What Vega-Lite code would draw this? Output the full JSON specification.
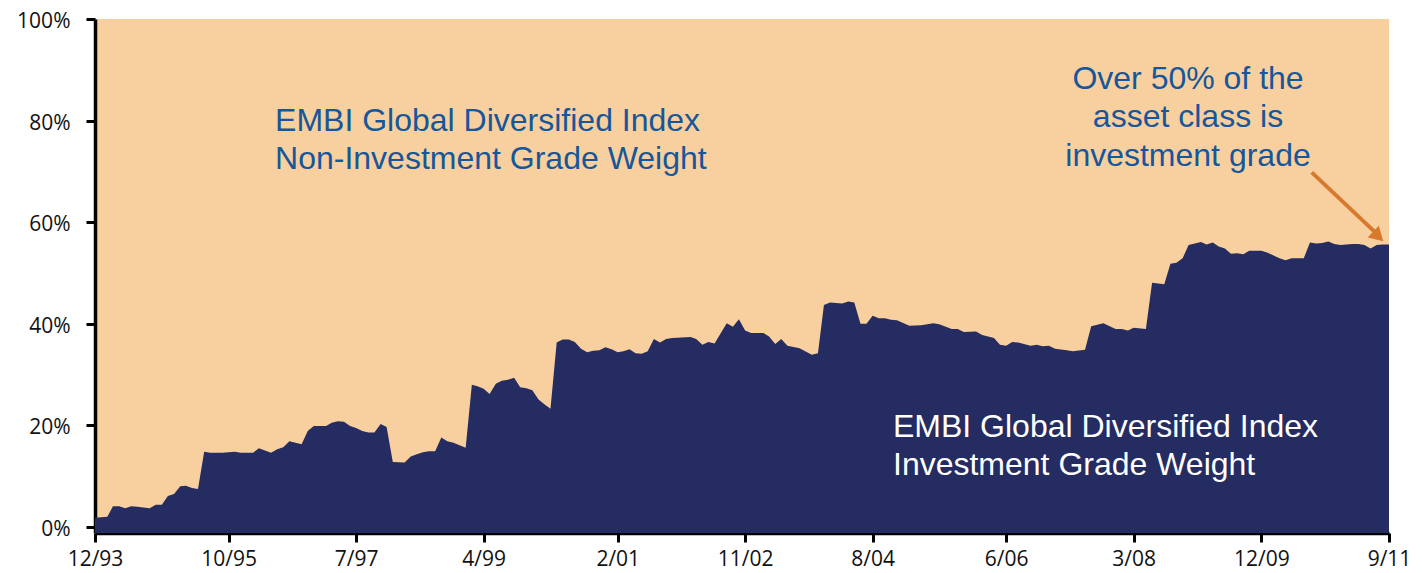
{
  "$schema": "https://vega.github.io/schema/vega-lite/v6.json",
  "autosize": {"type": "none"},
  "width": 1294,
  "height": 514,
  "padding": {"left": 95, "top": 19, "right": 33, "bottom": 40},
  "background": "white",
  "config": {
    "view": {"fill": "#F8CF9E", "stroke": null},
    "axis": {"grid": false, "labelFont": "Open Sans", "labelFontSize": 21, "labelColor": "#111111", "domainColor": "#000000", "tickColor": "#000000", "domainWidth": 3.5, "tickWidth": 3, "tickSize": 9, "title": null}
  },
  "data": {"values": [
    {"date": "1993-12-01", "ig": 1.8},
    {"date": "1994-02-01", "ig": 2.0},
    {"date": "1994-03-01", "ig": 4.1},
    {"date": "1994-04-01", "ig": 4.1},
    {"date": "1994-05-01", "ig": 3.7},
    {"date": "1994-06-01", "ig": 4.1},
    {"date": "1994-07-01", "ig": 4.0},
    {"date": "1994-09-01", "ig": 3.7},
    {"date": "1994-10-01", "ig": 4.4},
    {"date": "1994-11-01", "ig": 4.4},
    {"date": "1994-12-01", "ig": 6.1},
    {"date": "1995-01-01", "ig": 6.5},
    {"date": "1995-02-01", "ig": 8.0},
    {"date": "1995-03-01", "ig": 8.1},
    {"date": "1995-04-01", "ig": 7.7},
    {"date": "1995-05-01", "ig": 7.5},
    {"date": "1995-06-01", "ig": 14.8},
    {"date": "1995-07-01", "ig": 14.6},
    {"date": "1995-09-01", "ig": 14.6},
    {"date": "1995-11-01", "ig": 14.8},
    {"date": "1995-12-01", "ig": 14.6},
    {"date": "1996-02-01", "ig": 14.6},
    {"date": "1996-03-01", "ig": 15.5},
    {"date": "1996-05-01", "ig": 14.6},
    {"date": "1996-06-01", "ig": 15.3},
    {"date": "1996-07-01", "ig": 15.7},
    {"date": "1996-08-01", "ig": 16.9},
    {"date": "1996-10-01", "ig": 16.3},
    {"date": "1996-11-01", "ig": 18.9},
    {"date": "1996-12-01", "ig": 19.9},
    {"date": "1997-02-01", "ig": 19.9},
    {"date": "1997-03-01", "ig": 20.5},
    {"date": "1997-04-01", "ig": 20.8},
    {"date": "1997-05-01", "ig": 20.7},
    {"date": "1997-06-01", "ig": 19.9},
    {"date": "1997-07-01", "ig": 19.5},
    {"date": "1997-08-01", "ig": 18.9},
    {"date": "1997-09-01", "ig": 18.6},
    {"date": "1997-10-01", "ig": 18.6},
    {"date": "1997-11-01", "ig": 20.3},
    {"date": "1997-12-01", "ig": 19.7},
    {"date": "1998-01-01", "ig": 12.8},
    {"date": "1998-03-01", "ig": 12.7},
    {"date": "1998-04-01", "ig": 13.9},
    {"date": "1998-05-01", "ig": 14.3},
    {"date": "1998-06-01", "ig": 14.7},
    {"date": "1998-07-01", "ig": 14.9},
    {"date": "1998-08-01", "ig": 14.9},
    {"date": "1998-09-01", "ig": 17.6},
    {"date": "1998-10-01", "ig": 16.9},
    {"date": "1998-11-01", "ig": 16.6},
    {"date": "1999-01-01", "ig": 15.6},
    {"date": "1999-02-01", "ig": 28.0},
    {"date": "1999-03-01", "ig": 27.7},
    {"date": "1999-04-01", "ig": 27.2},
    {"date": "1999-05-01", "ig": 26.2},
    {"date": "1999-06-01", "ig": 28.2},
    {"date": "1999-07-01", "ig": 28.8},
    {"date": "1999-08-01", "ig": 29.0},
    {"date": "1999-09-01", "ig": 29.4},
    {"date": "1999-10-01", "ig": 27.5},
    {"date": "1999-11-01", "ig": 27.3},
    {"date": "1999-12-01", "ig": 26.9},
    {"date": "2000-01-01", "ig": 25.1},
    {"date": "2000-02-01", "ig": 24.1},
    {"date": "2000-03-01", "ig": 23.3},
    {"date": "2000-04-01", "ig": 36.3},
    {"date": "2000-05-01", "ig": 36.9},
    {"date": "2000-06-01", "ig": 36.9},
    {"date": "2000-07-01", "ig": 36.4},
    {"date": "2000-08-01", "ig": 35.1},
    {"date": "2000-09-01", "ig": 34.4},
    {"date": "2000-10-01", "ig": 34.7},
    {"date": "2000-11-01", "ig": 34.8},
    {"date": "2000-12-01", "ig": 35.4},
    {"date": "2001-01-01", "ig": 35.0},
    {"date": "2001-02-01", "ig": 34.4},
    {"date": "2001-03-01", "ig": 34.6},
    {"date": "2001-04-01", "ig": 35.0},
    {"date": "2001-05-01", "ig": 34.2},
    {"date": "2001-06-01", "ig": 34.1},
    {"date": "2001-07-01", "ig": 34.6},
    {"date": "2001-08-01", "ig": 37.0},
    {"date": "2001-09-01", "ig": 36.3},
    {"date": "2001-10-01", "ig": 37.0},
    {"date": "2001-11-01", "ig": 37.2},
    {"date": "2002-02-01", "ig": 37.4},
    {"date": "2002-03-01", "ig": 37.0},
    {"date": "2002-04-01", "ig": 35.9},
    {"date": "2002-05-01", "ig": 36.4},
    {"date": "2002-06-01", "ig": 36.1},
    {"date": "2002-08-01", "ig": 40.1},
    {"date": "2002-09-01", "ig": 39.4},
    {"date": "2002-10-01", "ig": 40.9},
    {"date": "2002-11-01", "ig": 38.7},
    {"date": "2002-12-01", "ig": 38.2},
    {"date": "2003-02-01", "ig": 38.2},
    {"date": "2003-03-01", "ig": 37.5},
    {"date": "2003-04-01", "ig": 36.0},
    {"date": "2003-05-01", "ig": 37.0},
    {"date": "2003-06-01", "ig": 35.7},
    {"date": "2003-08-01", "ig": 35.2},
    {"date": "2003-10-01", "ig": 33.9},
    {"date": "2003-11-01", "ig": 34.2},
    {"date": "2003-12-01", "ig": 43.7},
    {"date": "2004-01-01", "ig": 44.2},
    {"date": "2004-03-01", "ig": 44.0},
    {"date": "2004-04-01", "ig": 44.4},
    {"date": "2004-05-01", "ig": 44.2},
    {"date": "2004-06-01", "ig": 40.0},
    {"date": "2004-07-01", "ig": 40.0},
    {"date": "2004-08-01", "ig": 41.6},
    {"date": "2004-09-01", "ig": 41.1},
    {"date": "2004-10-01", "ig": 41.1},
    {"date": "2004-11-01", "ig": 40.8},
    {"date": "2004-12-01", "ig": 40.7},
    {"date": "2005-02-01", "ig": 39.6},
    {"date": "2005-04-01", "ig": 39.7},
    {"date": "2005-06-01", "ig": 40.1},
    {"date": "2005-07-01", "ig": 39.9},
    {"date": "2005-09-01", "ig": 39.0},
    {"date": "2005-10-01", "ig": 39.0},
    {"date": "2005-11-01", "ig": 38.4},
    {"date": "2006-01-01", "ig": 38.5},
    {"date": "2006-02-01", "ig": 37.8},
    {"date": "2006-04-01", "ig": 37.2},
    {"date": "2006-05-01", "ig": 35.9},
    {"date": "2006-06-01", "ig": 35.7},
    {"date": "2006-07-01", "ig": 36.4},
    {"date": "2006-08-01", "ig": 36.3},
    {"date": "2006-10-01", "ig": 35.7},
    {"date": "2006-11-01", "ig": 35.9},
    {"date": "2006-12-01", "ig": 35.6},
    {"date": "2007-01-01", "ig": 35.7},
    {"date": "2007-02-01", "ig": 35.1},
    {"date": "2007-04-01", "ig": 34.8},
    {"date": "2007-05-01", "ig": 34.6},
    {"date": "2007-07-01", "ig": 34.9},
    {"date": "2007-08-01", "ig": 39.5},
    {"date": "2007-10-01", "ig": 40.1},
    {"date": "2007-12-01", "ig": 39.0},
    {"date": "2008-01-01", "ig": 39.0},
    {"date": "2008-02-01", "ig": 38.7},
    {"date": "2008-03-01", "ig": 39.2},
    {"date": "2008-05-01", "ig": 39.0},
    {"date": "2008-06-01", "ig": 48.1},
    {"date": "2008-08-01", "ig": 47.8},
    {"date": "2008-09-01", "ig": 51.8},
    {"date": "2008-10-01", "ig": 52.0},
    {"date": "2008-11-01", "ig": 52.9},
    {"date": "2008-12-01", "ig": 55.5},
    {"date": "2009-02-01", "ig": 56.1},
    {"date": "2009-03-01", "ig": 55.6},
    {"date": "2009-04-01", "ig": 56.0},
    {"date": "2009-05-01", "ig": 55.2},
    {"date": "2009-06-01", "ig": 54.8},
    {"date": "2009-07-01", "ig": 53.8},
    {"date": "2009-08-01", "ig": 53.9},
    {"date": "2009-09-01", "ig": 53.7},
    {"date": "2009-10-01", "ig": 54.4},
    {"date": "2009-12-01", "ig": 54.4},
    {"date": "2010-01-01", "ig": 54.0},
    {"date": "2010-03-01", "ig": 52.9},
    {"date": "2010-04-01", "ig": 52.5},
    {"date": "2010-05-01", "ig": 52.9},
    {"date": "2010-07-01", "ig": 52.9},
    {"date": "2010-08-01", "ig": 56.0},
    {"date": "2010-09-01", "ig": 55.8},
    {"date": "2010-10-01", "ig": 55.9},
    {"date": "2010-11-01", "ig": 56.2},
    {"date": "2010-12-01", "ig": 55.7},
    {"date": "2011-01-01", "ig": 55.5},
    {"date": "2011-03-01", "ig": 55.7},
    {"date": "2011-04-01", "ig": 55.7},
    {"date": "2011-05-01", "ig": 55.5},
    {"date": "2011-06-01", "ig": 54.8},
    {"date": "2011-07-01", "ig": 55.5},
    {"date": "2011-08-01", "ig": 55.6},
    {"date": "2011-09-01", "ig": 55.6}
  ]},
  "encoding": {
    "x": {
      "field": "date", "type": "temporal",
      "scale": {"type": "utc", "domain": [{"year": 1993, "month": 12, "date": 1, "utc": true}, {"year": 2011, "month": 9, "date": 1, "utc": true}]},
      "axis": {
        "format": "%-m/%y", "labelPadding": 6, "labelFlush": false, "labelOverlap": false,
        "values": [
          {"year": 1993, "month": 12, "date": 1, "utc": true},
          {"year": 1995, "month": 10, "date": 1, "utc": true},
          {"year": 1997, "month": 7, "date": 1, "utc": true},
          {"year": 1999, "month": 4, "date": 1, "utc": true},
          {"year": 2001, "month": 2, "date": 1, "utc": true},
          {"year": 2002, "month": 11, "date": 1, "utc": true},
          {"year": 2004, "month": 8, "date": 1, "utc": true},
          {"year": 2006, "month": 6, "date": 1, "utc": true},
          {"year": 2008, "month": 3, "date": 1, "utc": true},
          {"year": 2009, "month": 12, "date": 1, "utc": true},
          {"year": 2011, "month": 9, "date": 1, "utc": true}
        ]
      }
    },
    "y": {
      "field": "ig", "type": "quantitative",
      "scale": {"domain": [-1.18, 100], "nice": false, "zero": false},
      "axis": {
        "values": [0, 20, 40, 60, 80, 100],
        "labelExpr": "datum.value + '%'",
        "labelPadding": 16, "labelOffset": 2.5,
        "encode": {"labels": {"update": {"dx": {"signal": "datum.value === 100 ? -6 : (datum.value === 0 ? 5 : 0)"}}}}
      }
    }
  },
  "layer": [
    {
      "mark": {"type": "area", "color": "#252C61", "interpolate": "linear"},
      "encoding": {"y2": {"datum": -1.18}}
    },
    {
      "data": {"values": [{"date": "1996-05-21", "ig": 78.0, "label": "EMBI Global Diversified Index\nNon-Investment Grade Weight"}]},
      "mark": {"type": "text", "align": "left", "baseline": "alphabetic", "font": "Liberation Sans", "fontSize": 32, "lineHeight": 38, "lineBreak": "\n", "color": "#15579A"},
      "encoding": {"text": {"field": "label"}}
    },
    {
      "data": {"values": [{"date": "2004-11-11", "ig": 17.7, "label": "EMBI Global Diversified Index\nInvestment Grade Weight"}]},
      "mark": {"type": "text", "align": "left", "baseline": "alphabetic", "font": "Liberation Sans", "fontSize": 32, "lineHeight": 38, "lineBreak": "\n", "color": "#FFFFFF"},
      "encoding": {"text": {"field": "label"}}
    },
    {
      "data": {"values": [{"date": "2008-11-28", "ig": 86.3, "label": "Over 50% of the\nasset class is\ninvestment grade"}]},
      "mark": {"type": "text", "align": "center", "baseline": "alphabetic", "font": "Liberation Sans", "fontSize": 32, "lineHeight": 38.5, "lineBreak": "\n", "color": "#15579A"},
      "encoding": {"text": {"field": "label"}}
    },
    {
      "data": {"values": [{"date": "2010-08-10", "ig": 69.8, "date2": "2011-07-05", "ig2": 57.6}]},
      "mark": {"type": "rule", "color": "#D87A2E", "strokeWidth": 4},
      "encoding": {"x2": {"field": "date2", "type": "temporal"}, "y2": {"field": "ig2"}}
    },
    {
      "data": {"values": [{"date": "2011-07-09", "ig": 57.2}]},
      "mark": {"type": "point", "shape": "triangle-up", "filled": true, "color": "#D87A2E", "opacity": 1, "size": 260, "angle": 134},
      "encoding": {}
    }
  ]
}
